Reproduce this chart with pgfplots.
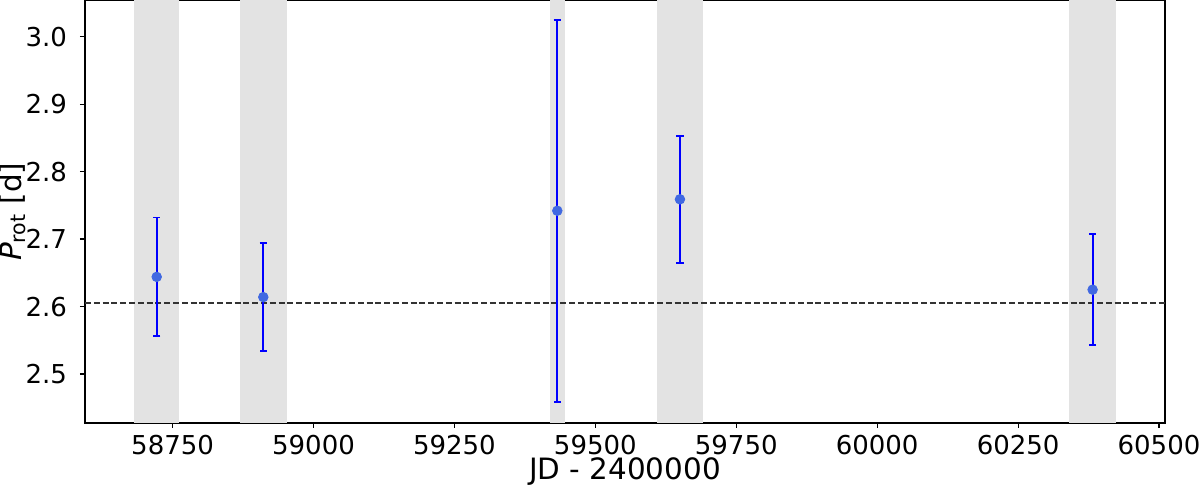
\documentclass[border=0pt]{standalone}
\usepackage{fontspec}
\setmainfont{DejaVu Sans}
\usepackage{pgfplots}
\pgfplotsset{compat=1.18}
\usetikzlibrary{calc}
\definecolor{pointblue}{HTML}{4169E1}
\definecolor{spangray}{HTML}{E3E3E3}
\begin{document}
\begin{tikzpicture}
\begin{axis}[
  name=ax,
  scale only axis,
  width=540pt, height=211.25pt,
  xmin=58594.6, xmax=60510.6,
  ymin=2.4274, ymax=3.0537,
  xtick={58750,59000,59250,59500,59750,60000,60250,60500},
  ytick={2.5,2.6,2.7,2.8,2.9,3.0},
  scaled x ticks=false,
  xtick pos=left, ytick pos=left,
  tick align=outside, major tick length=2.5pt,
  tick style={black, line width=0.6pt},
  axis line style={line width=0.6pt},
  /pgf/number format/assume math mode=true,
  ticklabel style={font=\fontsize{13}{15}\selectfont},
  xticklabel style={/pgf/number format/.cd, fixed, precision=0, set thousands separator={}},
  yticklabel style={xshift=-3pt, /pgf/number format/.cd, fixed, fixed zerofill, precision=1},
  xlabel={JD - 2400000},
  ylabel={\textit{P}\textsubscript{rot} [d]},
  label style={font=\fontsize{14.7}{17}\selectfont},
  xlabel style={at={(axis description cs:0.5,0)}, anchor=north, yshift=-14pt},
  ylabel style={at={(axis description cs:0,0.5)}, anchor=south, yshift=26pt},
]
  % observing seasons
  \addplot[draw=none, fill=spangray] coordinates {(58681.5,2.3) (58761.3,2.3) (58761.3,3.2) (58681.5,3.2)} -- cycle;
  \addplot[draw=none, fill=spangray] coordinates {(58869.6,2.3) (58953.5,2.3) (58953.5,3.2) (58869.6,3.2)} -- cycle;
  \addplot[draw=none, fill=spangray] coordinates {(59419.5,2.3) (59446.1,2.3) (59446.1,3.2) (59419.5,3.2)} -- cycle;
  \addplot[draw=none, fill=spangray] coordinates {(59609.9,2.3) (59691.5,2.3) (59691.5,3.2) (59609.9,3.2)} -- cycle;
  \addplot[draw=none, fill=spangray] coordinates {(60340.2,2.3) (60423.6,2.3) (60423.6,3.2) (60340.2,3.2)} -- cycle;
  % mean period
  \addplot[black!80, line width=0.75pt, dash pattern=on 3pt off 1.4pt] coordinates {(58594.6,2.605) (60510.6,2.605)};
  % per-season periods
  \addplot[blue, only marks, mark=*, mark size=2.4pt, mark options={fill=pointblue, draw=pointblue},
    error bars/.cd, y dir=both, y explicit,
    error bar style={blue, line width=0.9pt},
    error mark options={blue, mark size=1.8pt, line width=0.9pt, rotate=90}]
    coordinates {
      (58721.8,2.644) +- (0,0.088)
      (58910.9,2.614) +- (0,0.080)
      (59432.5,2.742) +- (0,0.283)
      (59650.1,2.759) +- (0,0.094)
      (60382.2,2.625) +- (0,0.082)
    };
\end{axis}
\pgfresetboundingbox
\path ($(ax.south west)+(-42.5pt,-33pt)$) rectangle ($(ax.north east)+(17.5pt,0.25pt)$);
\end{tikzpicture}
\end{document}
